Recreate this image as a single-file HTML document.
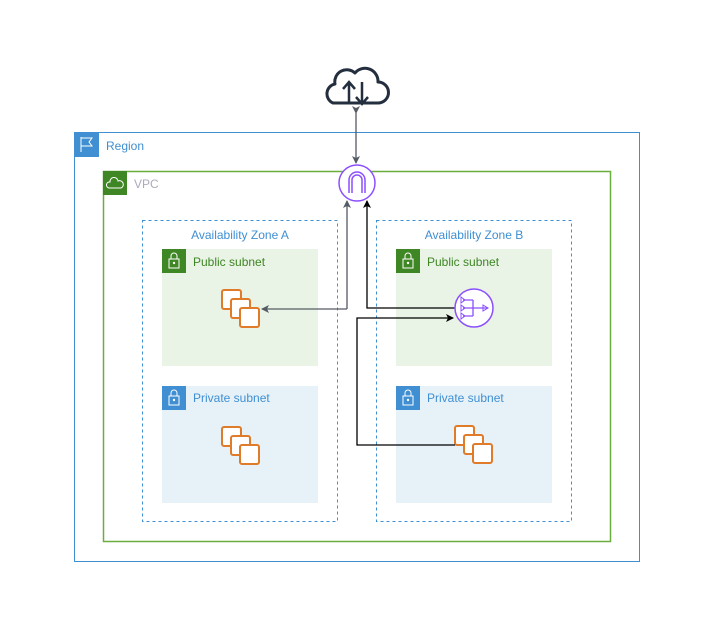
<!DOCTYPE html>
<html><head><meta charset="utf-8"><style>
body{margin:0;background:#fff;}
svg text{font-family:"Liberation Sans",sans-serif;font-size:12px;}
</style></head><body>
<svg width="720" height="632" viewBox="0 0 720 632" xmlns="http://www.w3.org/2000/svg">
<defs>
<marker id="ag" markerWidth="8" markerHeight="8" refX="7" refY="4" orient="auto" markerUnits="userSpaceOnUse"><path d="M0,0 L8,4 L0,8 L2,4z" fill="#545b64"/></marker>
<marker id="ab" markerWidth="8" markerHeight="8" refX="7" refY="4" orient="auto" markerUnits="userSpaceOnUse"><path d="M0,0 L8,4 L0,8 L2,4z" fill="#000"/></marker>
<g id="inst" fill="#fff" stroke="#e07b29" stroke-width="2">
<rect x="0" y="0" width="19" height="19" rx="2"/><rect x="9" y="9" width="19" height="19" rx="2"/><rect x="18" y="18" width="19" height="19" rx="2"/>
</g>
<g id="lock"><rect width="24" height="24"/><rect x="7" y="10" width="10" height="9" fill="none" stroke="#fff" stroke-width="1"/><path d="M9,10 V7 a3,3 0 0 1 6,0 V10" fill="none" stroke="#fff"/><circle cx="12" cy="14" r="1.2" fill="#fff"/></g>
</defs>
<!-- cloud -->
<path d="M333,103 a10,10 0 0 1 2,-19 a12,12 0 0 1 20,-11 a13,13 0 0 1 23,9 a10,10 0 0 1 0,21 z" fill="none" stroke="#232f3e" stroke-width="3" stroke-linejoin="round"/>
<path d="M349,104 V83 M343,89 L349,82 L355,89 M362,82 V104 M356,97 L362,104 L368,97" fill="none" stroke="#232f3e" stroke-width="2.5"/>
<!-- region -->
<rect x="74.5" y="132.5" width="565" height="429" fill="none" stroke="#3f8fd2" stroke-width="1"/>
<rect x="74" y="132" width="25" height="25" fill="#3f8fd2"/>
<path d="M81,137 V152 M81,138 H92 L89,142 L92,146 H81" fill="none" stroke="#fff" stroke-width="1"/>
<text x="106" y="150" fill="#3f8fd2">Region</text>
<!-- vpc -->
<rect x="103.5" y="171.5" width="507" height="370" fill="none" stroke="#6cae3e" stroke-width="1.5"/>
<rect x="103" y="171" width="24" height="24" fill="#3f8624"/>
<path d="M109,188 a3,3 0 0 1 1,-6 a4,4 0 0 1 8,-1 a3.5,3.5 0 0 1 3,7 z" fill="none" stroke="#fff"/>
<text x="134" y="188" fill="#aab">VPC</text>
<!-- AZs -->
<rect x="142.5" y="220.5" width="195" height="301" fill="none" stroke="#3f8fd2" stroke-dasharray="3,3"/>
<text x="240" y="239" fill="#3f8fd2" text-anchor="middle">Availability Zone A</text>
<rect x="376.5" y="220.5" width="195" height="301" fill="none" stroke="#3f8fd2" stroke-dasharray="3,3"/>
<text x="474" y="239" fill="#3f8fd2" text-anchor="middle">Availability Zone B</text>
<!-- subnets -->
<rect x="162" y="249" width="156" height="117" fill="#e9f3e6"/>
<use href="#lock" x="162" y="249" fill="#3f8624"/>
<text x="193" y="266" fill="#3f8624">Public subnet</text>
<rect x="396" y="249" width="156" height="117" fill="#e9f3e6"/>
<use href="#lock" x="396" y="249" fill="#3f8624"/>
<text x="427" y="266" fill="#3f8624">Public subnet</text>
<rect x="162" y="386" width="156" height="117" fill="#e6f2f8"/>
<use href="#lock" x="162" y="386" fill="#3f8fd2"/>
<text x="193" y="402" fill="#3f8fd2">Private subnet</text>
<rect x="396" y="386" width="156" height="117" fill="#e6f2f8"/>
<use href="#lock" x="396" y="386" fill="#3f8fd2"/>
<text x="427" y="402" fill="#3f8fd2">Private subnet</text>
<!-- instances -->
<use href="#inst" x="222" y="290"/>
<use href="#inst" x="222" y="427"/>
<use href="#inst" x="455" y="426"/>
<!-- connectors -->
<line x1="356" y1="113" x2="356" y2="163" stroke="#545b64" stroke-width="1.3" marker-end="url(#ag)" marker-start="url(#ag)"/>
<path d="M347,309 V201" fill="none" stroke="#545b64" stroke-width="1.3" marker-end="url(#ag)"/>
<path d="M347,309 H262" fill="none" stroke="#545b64" stroke-width="1.3" marker-end="url(#ag)"/>
<path d="M455,308 H367 V201" fill="none" stroke="#000" stroke-width="1.3" marker-end="url(#ab)"/>
<path d="M455,445 H357 V318 H453" fill="none" stroke="#000" stroke-width="1.3" marker-end="url(#ab)"/>
<!-- IGW -->
<circle cx="357" cy="183" r="18" fill="#fff" stroke="#8c4fff" stroke-width="1.5"/>
<path d="M349,193 V180 a8,8 0 0 1 16,0 V193 M352,193 V180 a5,5 0 0 1 10,0 V193" fill="none" stroke="#8c4fff" stroke-width="1.5"/>
<!-- NAT -->
<circle cx="474" cy="308" r="19" fill="#fff" stroke="#8c4fff" stroke-width="1.5"/>
<path d="M463,300 H473 M463,308 H488 M463,316 H473 M473,300 V316" fill="none" stroke="#8c4fff" stroke-width="1.3"/>
<path d="M461,297 l4,3 l-4,3z M461,305 l4,3 l-4,3z M461,313 l4,3 l-4,3z M483,305 l5,3 l-5,3z" fill="none" stroke="#8c4fff"/>
</svg>
</body></html>
